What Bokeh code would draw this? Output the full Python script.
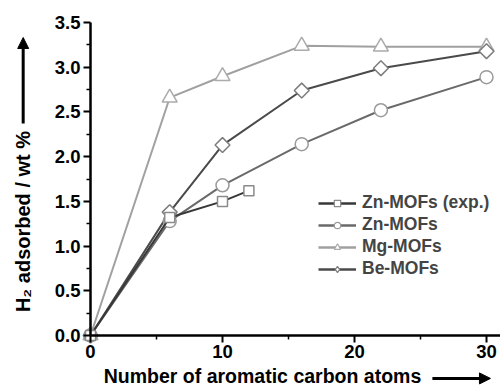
import numpy as np
from bokeh.plotting import figure
from bokeh.models import (Range1d, Label, Arrow, NormalHead, Legend, LegendItem, ColumnDataSource,
                          FixedTicker, CustomJSTickFormatter, LinearAxis)
from bokeh.embed import file_html
from bokeh.resources import INLINE

x_exp = [0, 6, 10, 12]
zn_exp = [0.0, 1.32, 1.50, 1.62]
x_calc = [0, 6, 10, 16, 22, 30]
zn_mofs = [0.0, 1.28, 1.68, 2.14, 2.52, 2.89]
mg_mofs = [0.0, 2.66, 2.90, 3.24, 3.23, 3.23]
be_mofs = [0.0, 1.38, 2.13, 2.74, 2.99, 3.18]
names = ["Zn-MOFs (exp.)", "Zn-MOFs", "Mg-MOFs", "Be-MOFs"]
x_ticks = [0, 10, 20, 30]
x_minor = [5, 15, 25]
y_ticks = [0.0, 0.5, 1.0, 1.5, 2.0, 2.5, 3.0, 3.5]
y_minor = [0.25, 0.75, 1.25, 1.75, 2.25, 2.75, 3.25]
x_title = "Number of aromatic carbon atoms"
y_title = "H\u2082 adsorbed / wt %"

FONT = "Liberation Sans"

# frame spans the whole canvas; axes sit at fixed locations inside it
p = figure(width=500, height=387, output_backend="svg", toolbar_location=None,
           x_range=Range1d(-6.818, 31.06), y_range=Range1d(-0.5817, 3.7472),
           x_axis_location=None, y_axis_location=None,
           min_border_left=0, min_border_right=0, min_border_top=0, min_border_bottom=0)
p.outline_line_color = None
p.grid.visible = False

xax = LinearAxis(fixed_location=0, bounds=(0, 31.06),
                 ticker=FixedTicker(ticks=x_ticks, minor_ticks=x_minor))
yax = LinearAxis(fixed_location=0, bounds=(0, 3.5),
                 ticker=FixedTicker(ticks=y_ticks, minor_ticks=y_minor),
                 formatter=CustomJSTickFormatter(code="return tick.toFixed(1);"))
for ax in (xax, yax):
    ax.axis_line_width = 2.5
    ax.axis_line_color = "black"
    ax.major_tick_line_width = 2
    ax.minor_tick_line_width = 1.5
    ax.major_tick_out = 7
    ax.major_tick_in = 0
    ax.minor_tick_out = 4
    ax.minor_tick_in = 0
    ax.major_label_text_font = FONT
    ax.major_label_text_font_style = "bold"
    ax.major_label_text_font_size = "18.5px"
    ax.major_label_text_color = "black"
    ax.major_label_standoff = 3
p.add_layout(xax, "below")
p.add_layout(yax, "left")

series = [
    ("Mg-MOFs", x_calc, mg_mofs, "#a0a0a0", "#ababab", "triangle", 15, 0, "triangle", 8),
    ("Be-MOFs", x_calc, be_mofs, "#4a4a4a", "#7c7c7c", "square", 10.5, np.pi / 4, "diamond", 9),
    ("Zn-MOFs", x_calc, zn_mofs, "#6a6a6a", "#9a9a9a", "circle", 13, 0, "circle", 7),
    ("Zn-MOFs (exp.)", x_exp, zn_exp, "#383838", "#8a8a8a", "square", 10, 0, "square", 6.5),
]
leg = {}
for name, xs, ys, lc, mc, mk, sz, ang, lmk, lsz in series:
    p.line(xs, ys, line_color=lc, line_width=2)
    p.scatter(xs, ys, marker=mk, size=sz, angle=ang, fill_color="white", line_color=mc, line_width=1.5)
    dummy = ColumnDataSource(data=dict(x=[float("nan")], y=[float("nan")]))
    r1 = p.line("x", "y", source=dummy, line_color=lc, line_width=2.5)
    r2 = p.scatter("x", "y", source=dummy, marker=lmk, size=lsz, fill_color="white",
                   line_color=mc, line_width=1.2)
    leg[name] = [r1, r2]

legend = Legend(items=[LegendItem(label=n, renderers=leg[n]) for n in names],
                location=(318, 108), orientation="vertical",
                label_text_font=FONT, label_text_font_style="bold", label_text_font_size="17.5px",
                label_height=16, glyph_height=16, glyph_width=38, spacing=1, padding=0, margin=0,
                label_standoff=6, background_fill_alpha=0, border_line_color=None)
p.add_layout(legend, "center")

# axis titles with arrows
p.add_layout(Label(x=-5.076, y=1.275, text=y_title, angle=np.pi / 2,
                   text_align="center", text_baseline="middle", text_font=FONT,
                   text_font_style="bold", text_font_size="20px", text_color="black"))
p.add_layout(Arrow(x_start=-5.10, y_start=2.371, x_end=-5.10, y_end=3.333, line_width=3,
                   line_color="black", end=NormalHead(size=11, fill_color="black", line_color="black")))
p.add_layout(Label(x=13.03, y=-0.453, text=x_title,
                   text_align="center", text_baseline="middle", text_font=FONT,
                   text_font_style="bold", text_font_size="19.5px", text_color="black"))
p.add_layout(Arrow(x_start=25.9, y_start=-0.48, x_end=30.3, y_end=-0.48, line_width=3,
                   line_color="black", end=NormalHead(size=11, fill_color="black", line_color="black")))

open("out.html", "w").write(file_html(p, INLINE))
